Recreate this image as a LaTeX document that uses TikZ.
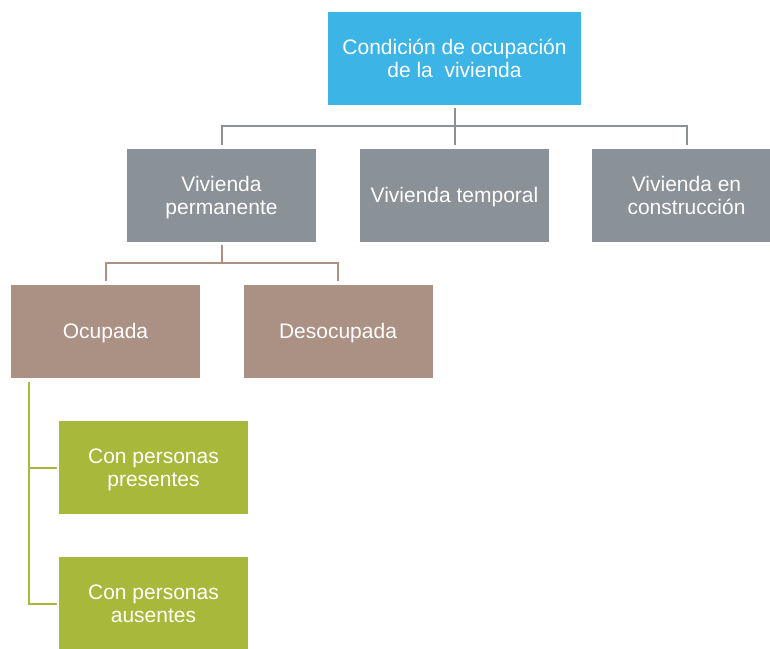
\documentclass[tikz,border=0pt]{standalone}
\usepackage{fontspec}
\setmainfont{Liberation Sans}
\usepackage{tikz}
\usetikzlibrary{positioning}
\definecolor{topcyan}{HTML}{3CB4E6}
\definecolor{slate}{HTML}{8A9197}
\definecolor{taupe}{HTML}{AB9084}
\definecolor{olive}{HTML}{A8B83A}
\tikzstyle{boxed} = [rectangle, minimum width=189pt, minimum height=93pt, inner sep=0pt, text depth=0pt, align=center, text=white, font=\fontsize{21}{23}\selectfont]
\tikzstyle{cyanbox} = [boxed, fill=topcyan, minimum width=253pt]
\tikzstyle{graybox} = [boxed, fill=slate]
\tikzstyle{brownbox} = [boxed, fill=taupe]
\tikzstyle{greenbox} = [boxed, fill=olive]
\tikzstyle{grayline} = [line width=2pt, draw=slate]
\tikzstyle{brownline} = [line width=2pt, draw=taupe]
\tikzstyle{greenline} = [line width=2pt, draw=olive]

\begin{document}
\begin{tikzpicture}[x=1pt,y=-1pt]
			\clip (0,0) rectangle (770,648);
			\node (cond) [cyanbox] at (454.5,58.5) {Condición de ocupación\\de la\ \ vivienda};
			%-----------------------------------------------
			\node (vperm) [graybox] at (221.5,195) {Vivienda\\permanente};
			\node (vtemp) [graybox] at (454.5,195) {Vivienda temporal};
			\node (vcons) [graybox] at (686.5,195) {Vivienda en\\construcción};
			%-----------------------------------------------
			\node (ocup) [brownbox] at (105.5,331) {Ocupada};
			\node (desoc) [brownbox] at (338,331) {Desocupada};
			%-----------------------------------------------
			\node (conpres) [greenbox] at (153.5,467.5) {Con personas\\presentes};
			\node (conaus) [greenbox] at (153.5,603.5) {Con personas\\ausentes};
			
			%-----------------------------------------------
			%-----------------------------------------------
			\coordinate (gbus) at (454.5,126);
			\coordinate (bbus) at (221.5,263);
			
			\draw [grayline] ([yshift=-3pt]cond.south) -- ([yshift=3pt]vtemp.north);
			\draw [grayline] ([yshift=3pt]vperm.north) |- (gbus) -| ([yshift=3pt]vcons.north);
			\draw [brownline] ([yshift=-3pt]vperm.south) -- (bbus);
			\draw [brownline] ([yshift=3pt]ocup.north) |- (bbus) -| ([yshift=3pt]desoc.north);
			\draw [greenline] ([xshift=-2pt]conaus.west) -| ([xshift=-76.5pt,yshift=-4pt]ocup.south);
			\draw [greenline] ([xshift=-2pt]conpres.west) -- ++(-29,0);
			\end{tikzpicture}
\end{document}
